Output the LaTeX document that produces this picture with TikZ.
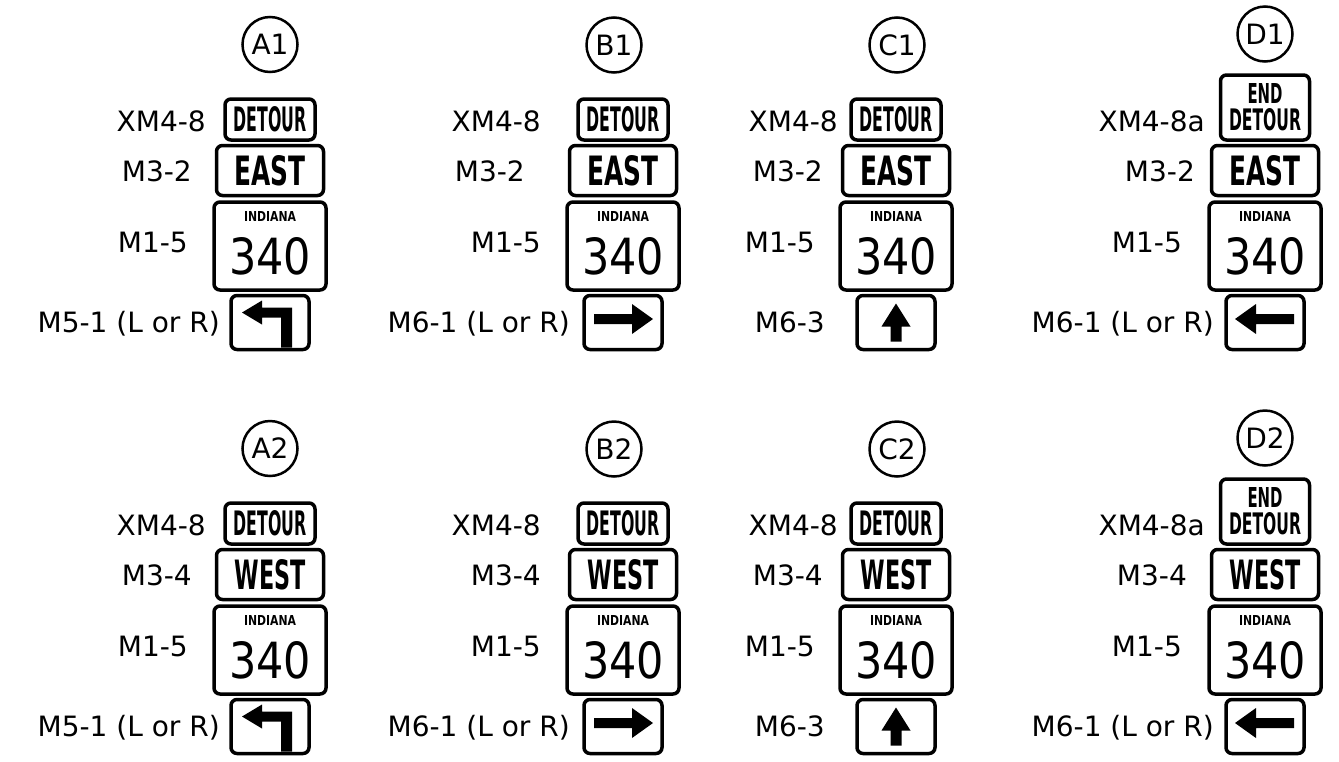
\documentclass[tikz,border=0pt]{standalone}
\usepackage{fontspec}
\newfontfamily\lblfont{DejaVu Sans}
\usetikzlibrary{positioning}
\tikzset{
  lbl/.style={anchor=base east, inner sep=0pt, font=\lblfont\fontsize{28}{28}\selectfont},
  badge/.style={circle, draw, line width=2.5pt, minimum size=55pt, inner sep=0pt,
    font=\lblfont\fontsize{28}{28}\selectfont},
  sign/.style={draw, line width=3.5pt, rounded corners=6pt, inner sep=0pt, font=\lblfont\bfseries},
  detsign/.style={sign, minimum width=90pt, minimum height=41pt},
  endsign/.style={sign, minimum width=89pt, minimum height=65pt},
  dirsign/.style={sign, minimum width=107pt, minimum height=50pt},
  rtesign/.style={sign, minimum width=112pt, minimum height=88pt},
  arrsign/.style={sign, minimum width=78pt, minimum height=54pt},
  stxt/.style={inner sep=0pt, font=\lblfont\bfseries},
  ntxt/.style={inner sep=0pt, font=\lblfont},
}
\newcommand\squeeze[3]{\resizebox{#1pt}{#2pt}{#3}}

\begin{document}
\begin{tikzpicture}[x=1pt, y=-1pt]
  \useasboundingbox (0,0) rectangle (1339,761);

  \foreach \r/\dy/\dir/\mc/\bx/\dx in {1/0/EAST/M3-2/525/1195, 2/404/WEST/M3-4/541/1187} {
  \begin{scope}[yshift=-\dy pt]
    % column A: left turn
    \node[badge] (A\r) at (270,44.5) {A\r};
    \node[dirsign] (A\r-dir) at (270,170.5) {\squeeze{71}{30}{\dir}};
    \node[detsign, above=2pt of A\r-dir] (A\r-top) {\squeeze{73}{25}{DETOUR}};
    \node[rtesign, below=3pt of A\r-dir] (A\r-rte) {};
    \node[stxt, below=11pt of A\r-rte.north] (A\r-st) {\squeeze{52}{10}{INDIANA}};
    \node[ntxt, below=16pt of A\r-st] (A\r-num) {\squeeze{82}{37}{340}};
    \node[arrsign, below=2pt of A\r-rte] (A\r-arr) {};
    \fill[shift={(A\r-arr.center)}] (-28,-10) -- (-8,-22) -- (-8,-15) -- (22,-15) -- (22,25)
      -- (11,25) -- (11,-5) -- (-8,-5) -- (-8,2) -- cycle;
    \node[lbl] (A\r-l1) at (206,131.5) {XM4-8};
    \node[lbl] (A\r-l2) at (192,181.5) {\mc};
    \node[lbl] (A\r-l3) at (188,252.5) {M1-5};
    \node[lbl] (A\r-l4) at (220,332.5) {M5-1 (L or R)};

    % column B: right arrow
    \node[badge] (B\r) at (614,45) {B\r};
    \node[dirsign] (B\r-dir) at (623,170.5) {\squeeze{71}{30}{\dir}};
    \node[detsign, above=2pt of B\r-dir] (B\r-top) {\squeeze{73}{25}{DETOUR}};
    \node[rtesign, below=3pt of B\r-dir] (B\r-rte) {};
    \node[stxt, below=11pt of B\r-rte.north] (B\r-st) {\squeeze{52}{10}{INDIANA}};
    \node[ntxt, below=16pt of B\r-st] (B\r-num) {\squeeze{82}{37}{340}};
    \node[arrsign, below=2pt of B\r-rte] (B\r-arr) {};
    \fill[shift={(B\r-arr.center)}] (-29,-8.5) -- (9,-8.5) -- (9,-18.5) -- (30,-3.5) -- (9,11.5)
      -- (9,1.5) -- (-29,1.5) -- cycle;
    \node[lbl] (B\r-l1) at (541,131.5) {XM4-8};
    \node[lbl] (B\r-l2) at (\bx,181.5) {\mc};
    \node[lbl] (B\r-l3) at (541,252.5) {M1-5};
    \node[lbl] (B\r-l4) at (570,332.5) {M6-1 (L or R)};

    % column C: straight ahead
    \node[badge] (C\r) at (897,45) {C\r};
    \node[dirsign] (C\r-dir) at (896,170.5) {\squeeze{71}{30}{\dir}};
    \node[detsign, above=2pt of C\r-dir] (C\r-top) {\squeeze{73}{25}{DETOUR}};
    \node[rtesign, below=3pt of C\r-dir] (C\r-rte) {};
    \node[stxt, below=11pt of C\r-rte.north] (C\r-st) {\squeeze{52}{10}{INDIANA}};
    \node[ntxt, below=16pt of C\r-st] (C\r-num) {\squeeze{82}{37}{340}};
    \node[arrsign, below=2pt of C\r-rte] (C\r-arr) {};
    \fill[shift={(C\r-arr.center)}] (0,-19) -- (14.5,4) -- (5.5,4) -- (5.5,19) -- (-5.5,19)
      -- (-5.5,4) -- (-14.5,4) -- cycle;
    \node[lbl] (C\r-l1) at (838,131.5) {XM4-8};
    \node[lbl] (C\r-l2) at (823,181.5) {\mc};
    \node[lbl] (C\r-l3) at (815,252.5) {M1-5};
    \node[lbl] (C\r-l4) at (825,332.5) {M6-3};

    % column D: end of detour, left arrow
    \node[badge] (D\r) at (1265,34) {D\r};
    \node[dirsign] (D\r-dir) at (1265,170.5) {\squeeze{71}{30}{\dir}};
    \node[endsign, above=2pt of D\r-dir] (D\r-top) {};
    \node[stxt, below=10pt of D\r-top.north] (D\r-end) {\squeeze{35}{20}{END}};
    \node[stxt, below=5pt of D\r-end] (D\r-det) {\squeeze{72}{22}{DETOUR}};
    \node[rtesign, below=3pt of D\r-dir] (D\r-rte) {};
    \node[stxt, below=11pt of D\r-rte.north] (D\r-st) {\squeeze{52}{10}{INDIANA}};
    \node[ntxt, below=16pt of D\r-st] (D\r-num) {\squeeze{82}{37}{340}};
    \node[arrsign, below=2pt of D\r-rte] (D\r-arr) {};
    \fill[shift={(D\r-arr.center)}] (29,-8.5) -- (-9,-8.5) -- (-9,-18.5) -- (-30,-3.5) -- (-9,11.5)
      -- (-9,1.5) -- (29,1.5) -- cycle;
    \node[lbl] (D\r-l1) at (1205,131.5) {XM4-8a};
    \node[lbl] (D\r-l2) at (\dx,181.5) {\mc};
    \node[lbl] (D\r-l3) at (1182,252.5) {M1-5};
    \node[lbl] (D\r-l4) at (1214,332.5) {M6-1 (L or R)};
  \end{scope}
  }
\end{tikzpicture}
\end{document}
